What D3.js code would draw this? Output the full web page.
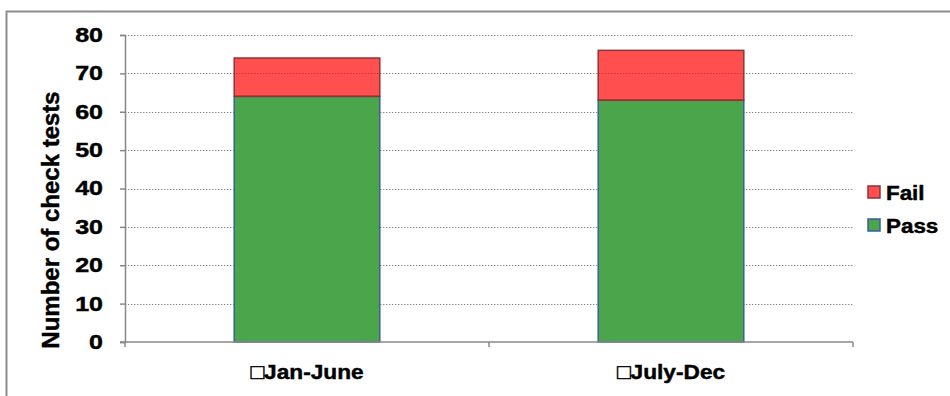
<!DOCTYPE html>
<html>
<head>
<meta charset="utf-8">
<script src="https://cdn.jsdelivr.net/npm/d3@7"></script>
<style>
  html, body { margin: 0; padding: 0; background: #fff; }
  svg text { font-family: "Liberation Sans", Arial, sans-serif; font-weight: bold; fill: #000; stroke: #000; stroke-width: 0.45px; }
</style>
</head>
<body>
<svg id="chart" width="950" height="396"></svg>
<script>
// Check test results per half-year
const categories = ["\u25A1Jan-June", "\u25A1July-Dec"];
const passValues = [64, 63];
const failValues = [10, 13];
const seriesNames = ["Pass", "Fail"];
const yTicks = [0, 10, 20, 30, 40, 50, 60, 70, 80];
const yTitle = "Number of check tests";

const svg = d3.select("#chart");
const plot = { left: 125, right: 853, top: 35, bottom: 342 };

// outer frame (runs off the right and bottom edges)
svg.append("rect")
  .attr("x", 6.5).attr("y", 11.5)
  .attr("width", 1000).attr("height", 500)
  .attr("fill", "none").attr("stroke", "#8c8c8c").attr("stroke-width", 2);

const x = d3.scaleBand().domain(categories).range([plot.left, plot.right]).padding(0);
const y = d3.scaleLinear().domain([0, 80]).range([plot.bottom, plot.top]);

const rows = categories.map((c, i) => ({ cat: c, Pass: passValues[i], Fail: failValues[i] }));
const stacked = d3.stack().keys(seriesNames)(rows);
const fills = { Pass: "#4ba54b", Fail: "rgba(255,0,0,0.69)" };
const strokes = { Pass: "#3a5e9c", Fail: "#8e3535" };
const barFrac = 0.4;

// gridlines (drawn first, the translucent red lets them show through)
svg.append("g").selectAll("line")
  .data(yTicks.filter(t => t > 0))
  .join("line")
  .attr("x1", plot.left).attr("x2", plot.right)
  .attr("y1", d => Math.round(y(d)) + 0.5).attr("y2", d => Math.round(y(d)) + 0.5)
  .attr("stroke", "#8a8a8a").attr("stroke-width", 1.2)
  .attr("stroke-dasharray", "1.4,1.6");

// stacked bars
stacked.forEach(layer => {
  svg.append("g").selectAll("rect")
    .data(layer)
    .join("rect")
    .attr("x", d => x(d.data.cat) + x.bandwidth() * (1 - barFrac) / 2)
    .attr("width", x.bandwidth() * barFrac)
    .attr("y", d => y(d[1]))
    .attr("height", d => y(d[0]) - y(d[1]))
    .attr("fill", fills[layer.key])
    .attr("stroke", strokes[layer.key])
    .attr("stroke-width", 1.5);
});

// y axis
const yAxis = d3.axisLeft(y).tickValues(yTicks).tickSize(5).tickPadding(17);
const gy = svg.append("g").attr("transform", `translate(${plot.left},0)`).call(yAxis);
gy.select(".domain").attr("stroke", "#888").attr("stroke-width", 1.5);
gy.selectAll(".tick line").attr("stroke", "#888").attr("stroke-width", 1.5);
gy.selectAll(".tick text")
  .attr("font-size", 20).attr("font-family", null)
  .each(function () {
    const t = d3.select(this);
    const tx = +t.attr("x");
    t.attr("x", null).attr("transform", `translate(${tx},0) scale(1.25,1)`);
  });

// x axis with category boundary ticks
const gx = svg.append("g").attr("transform", `translate(0,${plot.bottom})`);
gx.append("line").attr("x1", plot.left - 5).attr("x2", plot.right)
  .attr("stroke", "#888").attr("stroke-width", 1.5);
const bounds = categories.map(c => x(c)).concat([plot.right]);
gx.selectAll("line.b").data(bounds).join("line").attr("class", "b")
  .attr("x1", d => d).attr("x2", d => d).attr("y1", 0).attr("y2", 5)
  .attr("stroke", "#888").attr("stroke-width", 1.5);
gx.selectAll("text").data(categories).join("text")
  .attr("transform", d => `translate(${x(d) + x.bandwidth() / 2},37) scale(1.08,1)`)
  .attr("text-anchor", "middle")
  .attr("font-size", 21)
  .text(d => d);

// y axis title
svg.append("text")
  .attr("transform", "translate(59,220) rotate(-90)")
  .attr("text-anchor", "middle")
  .attr("font-size", 24)
  .text(yTitle);

// legend
const legendItems = ["Fail", "Pass"];
const lg = svg.append("g").attr("transform", "translate(868,186)");
legendItems.forEach((k, i) => {
  const g = lg.append("g").attr("transform", `translate(0,${i * 33})`);
  g.append("rect").attr("x", 0).attr("y", 0).attr("width", 12).attr("height", 12)
    .attr("fill", fills[k]).attr("stroke", strokes[k]).attr("stroke-width", 1.5);
  g.append("text").attr("transform", "translate(18,13.5) scale(1.12,1)")
    .attr("font-size", 20).text(k);
});
</script>
</body>
</html>
